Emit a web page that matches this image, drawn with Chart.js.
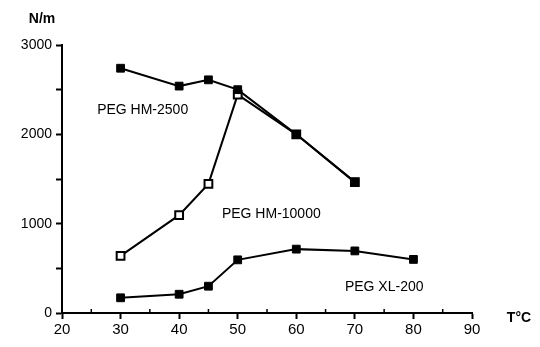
<!DOCTYPE html>
<html>
<head>
<meta charset="utf-8">
<script src="https://cdn.jsdelivr.net/npm/chart.js@4.4.1/dist/chart.umd.min.js"></script>
<style>
  html, body { margin: 0; padding: 0; background: #fff; }
  #wrap { width: 540px; height: 347px; }
</style>
</head>
<body>
<div id="wrap"><canvas id="chart" width="540" height="347"></canvas></div>
<script>
const temps = [30, 40, 45, 50, 60, 70, 80];
const hm2500 = [2740, 2540, 2610, 2500, 2000, 1465, null];
const hm10000 = [640, 1095, 1445, 2445, 2000, 1465, null];
const xl200 = [170, 210, 300, 595, 715, 695, 600];
const xTicks = [20, 30, 40, 50, 60, 70, 80, 90];
const yTicks = [0, 1000, 2000, 3000];

const seriesLabels = [
    { text: 'PEG HM-2500', x: 26.0, y: 2270 },
    { text: 'PEG HM-10000', x: 47.3, y: 1105 },
    { text: 'PEG XL-200', x: 68.3, y: 290 }
];

const FONT = 'Liberation Sans, Arial, Helvetica, sans-serif';

function toPoints(values) {
    return temps.map((t, i) => ({ x: t, y: values[i] })).filter(p => p.y !== null);
}

const annotations = {
    id: 'annotations',
    afterDraw(chart) {
        const ctx = chart.ctx;
        const xs = chart.scales.x;
        const ys = chart.scales.y;
        ctx.save();
        ctx.fillStyle = '#000';
        ctx.font = '14px ' + FONT;
        ctx.textAlign = 'left';
        ctx.textBaseline = 'middle';
        seriesLabels.forEach(l => {
            ctx.fillText(l.text, xs.getPixelForValue(l.x), ys.getPixelForValue(l.y));
        });

        // minor ticks on the x axis point up into the plot
        ctx.strokeStyle = '#000';
        ctx.lineWidth = 1.5;
        const y0 = ys.getPixelForValue(0);
        for (let v = 25; v < 90; v += 10) {
            const px = xs.getPixelForValue(v);
            ctx.beginPath();
            ctx.moveTo(px, y0);
            ctx.lineTo(px, y0 - 4);
            ctx.stroke();
        }

        ctx.font = 'bold 14px ' + FONT;
        ctx.textAlign = 'center';
        ctx.fillText('N/m', 42, 19);
        ctx.fillText('T\u00b0C', 519, 318);
        ctx.restore();
    }
};

function dataset(label, values, filled) {
    return {
        label: label,
        data: toPoints(values),
        borderColor: '#000',
        backgroundColor: filled ? '#000' : '#fff',
        borderWidth: 2,
        pointStyle: 'rect',
        pointRadius: 5.5,
        pointBorderWidth: filled ? 1 : 2,
        pointBackgroundColor: filled ? '#000' : '#fff',
        pointBorderColor: '#000',
        tension: 0
    };
}

new Chart(document.getElementById('chart'), {
    type: 'line',
    data: {
        datasets: [
            dataset('PEG HM-2500', hm2500, true),
            dataset('PEG HM-10000', hm10000, false),
            dataset('PEG XL-200', xl200, true)
        ]
    },
    options: {
        responsive: false,
        animation: false,
        layout: { padding: { top: 45, right: 68, left: 0, bottom: 0 } },
        plugins: {
            legend: { display: false },
            tooltip: { enabled: false }
        },
        scales: {
            x: {
                type: 'linear',
                min: 20,
                max: 90,
                border: { color: '#000', width: 2 },
                grid: {
                    drawOnChartArea: false,
                    tickLength: 6,
                    tickWidth: 2,
                    tickColor: ctx => (ctx.tick && ctx.tick.value % 10 === 0) ? '#000' : 'rgba(0,0,0,0)'
                },
                afterBuildTicks: scale => {
                    const t = [];
                    for (let v = 20; v <= 90; v += 5) t.push({ value: v });
                    scale.ticks = t;
                },
                ticks: {
                    color: '#000',
                    font: { family: FONT, size: 15 },
                    padding: 2,
                    maxRotation: 0,
                    autoSkip: false,
                    callback: v => xTicks.includes(v) ? String(v) : ''
                },
                afterFit: scale => { scale.height = 34; }
            },
            y: {
                min: 0,
                max: 3000,
                border: { color: '#000', width: 2 },
                grid: {
                    drawOnChartArea: false,
                    tickLength: 6,
                    tickWidth: 2,
                    tickColor: '#000'
                },
                afterBuildTicks: scale => {
                    const t = [];
                    for (let v = 0; v <= 3000; v += 500) t.push({ value: v });
                    scale.ticks = t;
                },
                ticks: {
                    color: '#000',
                    font: { family: FONT, size: 14 },
                    padding: 4,
                    autoSkip: false,
                    callback: v => yTicks.includes(v) ? String(v) : ''
                },
                afterFit: scale => { scale.width = 62; }
            }
        }
    },
    plugins: [annotations]
});
</script>
</body>
</html>
